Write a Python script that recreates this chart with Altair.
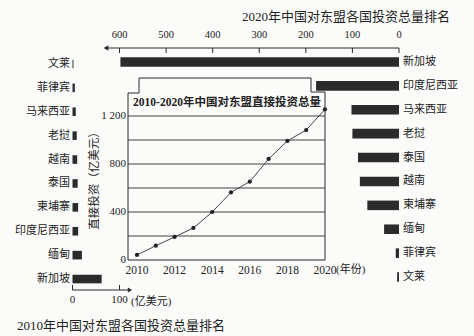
import altair as alt
import pandas as pd

# ---------------- data ----------------
countries_2020 = ["新加坡", "印度尼西亚", "马来西亚", "老挝", "泰国", "越南", "柬埔寨", "缅甸", "菲律宾", "文莱"]
values_2020 = [598, 178, 102, 100, 88, 84, 68, 32, 7, 4]

countries_2010 = ["文莱", "菲律宾", "马来西亚", "老挝", "越南", "泰国", "柬埔寨", "印度尼西亚", "缅甸", "新加坡"]
values_2010 = [2, 5, 7, 9, 10, 11, 12, 12, 20, 62]

years = [2010, 2011, 2012, 2013, 2014, 2015, 2016, 2017, 2018, 2019, 2020]
totals = [42, 119, 192, 267, 400, 564, 653, 842, 992, 1083, 1256]

top_ticks = [0, 100, 200, 300, 400, 500, 600]
bottom_ticks = [0, 100]
grid_values = [200, 400, 600, 800, 1000, 1200]
y_label_values = [0, 400, 800, 1200]
y_label_texts = ["0", "400", "800", "1 200"]
x_label_years = [2010, 2012, 2014, 2016, 2018, 2020]

df20 = pd.DataFrame({"country": countries_2020, "value": values_2020})
df10 = pd.DataFrame({"country": countries_2010, "value": values_2010})
dfline = pd.DataFrame({"year": years, "total": totals})
dftop = pd.DataFrame({"tick": top_ticks})
dfbot = pd.DataFrame({"tick": bottom_ticks})
dfgrid = pd.DataFrame({"v": grid_values})
dfyl = pd.DataFrame({"v": y_label_values, "t": y_label_texts})
dfxl = pd.DataFrame({"year": x_label_years})

FONT = "Liberation Serif, Noto Sans CJK SC"
INK = "#2b2b2b"

# ---------------- scales ----------------
x20 = alt.Scale(domain=[0, 600], range=[399, 119.5])
y20 = alt.Scale(type="band", domain=countries_2020, range=[50, 289], paddingInner=0.6, paddingOuter=0.3)
x10 = alt.Scale(domain=[0, 100], range=[72.5, 119.5])
y10 = alt.Scale(type="band", domain=countries_2010, range=[52, 291], paddingInner=0.64, paddingOuter=0.32)
xin = alt.Scale(domain=[2010, 2020], range=[137, 325])
yin = alt.Scale(domain=[0, 1200], range=[260, 116])

layers = []

# ---- 2020 ranking (right) ----
layers.append(alt.Chart(df20).mark_bar(color=INK).encode(
    x=alt.X("value:Q", scale=x20, axis=None),
    y=alt.Y("country:N", scale=y20, axis=None),
))
layers.append(alt.Chart(df20).mark_text(align="left", baseline="middle", font=FONT, fontSize=11, color="#222").encode(
    x=alt.value(403),
    y=alt.Y("country:N", scale=y20, axis=None),
    text="country:N",
))
# top axis
layers.append(alt.Chart().mark_rule(color=INK, strokeWidth=1).encode(
    x=alt.value(106), x2=alt.value(399), y=alt.value(48)))
layers.append(alt.Chart().mark_point(shape="triangle-left", filled=True, color=INK, size=30, opacity=1).encode(
    x=alt.value(106), y=alt.value(48)))
layers.append(alt.Chart(dftop).mark_rule(color=INK, strokeWidth=1).encode(
    x=alt.X("tick:Q", scale=x20, axis=None), y=alt.value(48), y2=alt.value(53)))
layers.append(alt.Chart(dftop).mark_text(font=FONT, fontSize=10.5, color="#222", baseline="middle").encode(
    x=alt.X("tick:Q", scale=x20, axis=None), y=alt.value(35), text="tick:Q"))
layers.append(alt.Chart().mark_text(font=FONT, fontSize=13, color="#222", baseline="middle").encode(
    x=alt.value(346), y=alt.value(17), text=alt.value("2020年中国对东盟各国投资总量排名")))

# ---- 2010 ranking (left) ----
layers.append(alt.Chart(df10).mark_bar(color=INK).encode(
    x=alt.X("value:Q", scale=x10, axis=None),
    y=alt.Y("country:N", scale=y10, axis=None),
))
layers.append(alt.Chart(df10).mark_text(align="right", baseline="middle", font=FONT, fontSize=11, color="#222").encode(
    x=alt.value(70),
    y=alt.Y("country:N", scale=y10, axis=None),
    text="country:N",
))
layers.append(alt.Chart().mark_rule(color=INK, strokeWidth=1).encode(
    x=alt.value(72.5), x2=alt.value(130), y=alt.value(290)))
layers.append(alt.Chart().mark_point(shape="triangle-right", filled=True, color=INK, size=25, opacity=1).encode(
    x=alt.value(130), y=alt.value(290)))
layers.append(alt.Chart(dfbot).mark_rule(color=INK, strokeWidth=1).encode(
    x=alt.X("tick:Q", scale=x10, axis=None), y=alt.value(285), y2=alt.value(290)))
layers.append(alt.Chart(dfbot).mark_text(font=FONT, fontSize=11, color="#222", baseline="middle").encode(
    x=alt.X("tick:Q", scale=x10, axis=None), y=alt.value(300), text="tick:Q"))
layers.append(alt.Chart().mark_text(font=FONT, fontSize=11, color="#222", align="left", baseline="middle").encode(
    x=alt.value(131), y=alt.value(302), text=alt.value("(亿美元)")))
layers.append(alt.Chart().mark_text(font=FONT, fontSize=13, color="#222", baseline="middle").encode(
    x=alt.value(121), y=alt.value(326), text=alt.value("2010年中国对东盟各国投资总量排名")))

# ---- inset line chart ----
# frame
def seg(x1, x2, y1, y2):
    return alt.Chart().mark_rule(color=INK, strokeWidth=1).encode(
        x=alt.value(x1), x2=alt.value(x2), y=alt.value(y1), y2=alt.value(y2))

layers += [
    seg(128, 128, 93, 260),
    seg(128, 139, 93, 93),
    seg(139, 139, 78, 93),
    seg(139, 311, 78, 78),
    seg(311, 311, 78, 92),
    seg(311, 325, 92, 92),
    seg(325, 325, 92, 260),
    seg(128, 325, 260, 260),
]
layers.append(alt.Chart(dfgrid).mark_rule(color=INK, strokeWidth=0.9).encode(
    x=alt.value(128), x2=alt.value(325), y=alt.Y("v:Q", scale=yin, axis=None)))
layers.append(alt.Chart(dfyl).mark_text(font=FONT, fontSize=11, color="#222", align="right", baseline="middle").encode(
    x=alt.value(126), y=alt.Y("v:Q", scale=yin, axis=None), text="t:N"))
layers.append(alt.Chart(dfxl).mark_text(font=FONT, fontSize=11.5, color="#222", baseline="middle").encode(
    x=alt.X("year:Q", scale=xin, axis=None), y=alt.value(271), text="year:N"))
layers.append(alt.Chart().mark_text(font=FONT, fontSize=11, color="#222", align="left", baseline="middle").encode(
    x=alt.value(336), y=alt.value(270), text=alt.value("(年份)")))
layers.append(alt.Chart().mark_text(font=FONT, fontSize=11.5, color="#222", angle=270, baseline="middle").encode(
    x=alt.value(95), y=alt.value(178), text=alt.value("直接投资（亿美元）")))
layers.append(alt.Chart().mark_text(font=FONT, fontSize=11.5, fontWeight="bold", color="#222", baseline="middle").encode(
    x=alt.value(227), y=alt.value(103), text=alt.value("2010-2020年中国对东盟直接投资总量")))
layers.append(alt.Chart(dfline).mark_line(color="#444", strokeWidth=1).encode(
    x=alt.X("year:Q", scale=xin, axis=None), y=alt.Y("total:Q", scale=yin, axis=None)))
layers.append(alt.Chart(dfline).mark_circle(color="#222", size=18, opacity=1).encode(
    x=alt.X("year:Q", scale=xin, axis=None), y=alt.Y("total:Q", scale=yin, axis=None)))

chart = alt.layer(*layers).resolve_scale(x="independent", y="independent").properties(
    width=474, height=336, padding=0, autosize=alt.AutoSizeParams(type="none"),
    background="#fbfbfa",
).configure_view(stroke=None)

chart.save("out.html", embed_options={"renderer": "svg", "actions": False})
